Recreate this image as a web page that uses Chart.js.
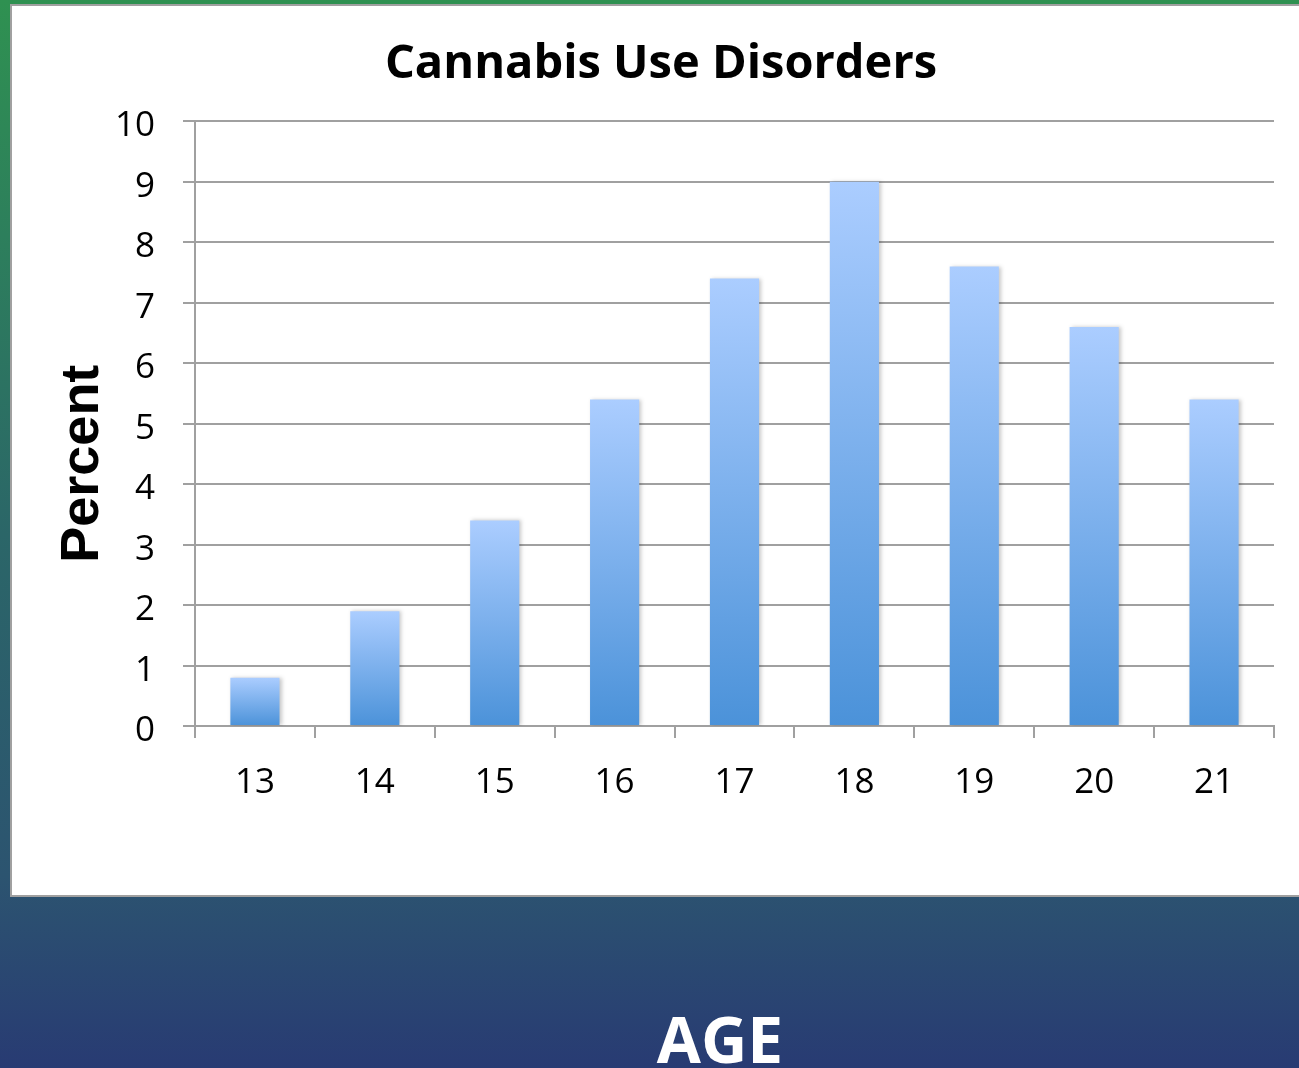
<!DOCTYPE html>
<html>
<head>
<meta charset="utf-8">
<script src="https://cdn.jsdelivr.net/npm/chart.js@4/dist/chart.umd.min.js"></script>
<style>
  html, body { margin: 0; padding: 0; }
  body {
    width: 1299px; height: 1068px; overflow: hidden; position: relative;
    background: linear-gradient(to bottom, #2f9151 0%, #2d7f5c 22%, #2b6668 50%, #2c5470 82%, #283b73 100%);
  }
  #panel {
    position: absolute; left: 10px; top: 4px; width: 1300px; height: 889px;
    background: #fff; border: 2px solid #a0a0a0; border-right: none; box-sizing: content-box;
  }
  #chart { position: absolute; left: 0; top: 0; }
  #xname {
    position: absolute; left: 0; width: 1440px; top: 999px; text-align: center;
    font: bold 64px "Open Sans", sans-serif; color: #fff; line-height: 80px;
  }
</style>
</head>
<body>
<div id="panel"><canvas id="chart" width="1289" height="889"></canvas></div>
<div id="xname">AGE</div>
<script>
// Share of each age group with a cannabis use disorder
const ages = ['13', '14', '15', '16', '17', '18', '19', '20', '21'];
const percents = [0.8, 1.9, 3.4, 5.4, 7.4, 9.0, 7.6, 6.6, 5.4];
const yTicks = [0, 1, 2, 3, 4, 5, 6, 7, 8, 9, 10];

const gridColor = '#a0a0a0';

// vertical gradient per bar, light at the top, deeper blue at the base
function barFill(ctx) {
  const chart = ctx.chart;
  const area = chart.chartArea;
  if (!area || ctx.type !== 'data') return '#7fb0ee';
  const y = chart.scales.y;
  const top = y.getPixelForValue(ctx.parsed.y);
  const base = y.getPixelForValue(0);
  if (!isFinite(top) || top === base) return '#7fb0ee';
  const g = chart.ctx.createLinearGradient(0, top, 0, base);
  g.addColorStop(0, '#abcdff');
  g.addColorStop(1, '#4b92d9');
  return g;
}

// soft drop shadow behind the bars
const barShadow = {
  id: 'barShadow',
  beforeDatasetsDraw(chart) {
    const c = chart.ctx;
    c.save();
    c.shadowColor = 'rgba(0,0,0,0.22)';
    c.shadowBlur = 4;
    c.shadowOffsetX = 2;
    c.shadowOffsetY = 0;
  },
  afterDatasetsDraw(chart) { chart.ctx.restore(); }
};

// rotated y-axis name
const yName = {
  id: 'yName',
  afterDraw(chart) {
    const c = chart.ctx;
    const area = chart.chartArea;
    c.save();
    c.translate(71, (area.top + area.bottom) / 2 + 40);
    c.rotate(-Math.PI / 2);
    c.textAlign = 'center';
    c.textBaseline = 'middle';
    c.fillStyle = '#000';
    c.font = 'bold 54px "Liberation Sans", Arial, sans-serif';
    c.fillText('Percent', 0, 0);
    c.restore();
  }
};

new Chart(document.getElementById('chart'), {
  type: 'bar',
  data: {
    labels: ages,
    datasets: [{
      data: percents,
      backgroundColor: barFill,
      borderWidth: 0,
      categoryPercentage: 1,
      barPercentage: 0.41
    }]
  },
  options: {
    responsive: false,
    animation: false,
    devicePixelRatio: 1,
    layout: { padding: { left: 36, right: 27, top: 0, bottom: 0 } },
    plugins: {
      legend: { display: false },
      tooltip: { enabled: false },
      title: {
        display: true,
        text: 'Cannabis Use Disorders',
        color: '#000',
        font: { family: '"Open Sans", sans-serif', size: 47, weight: 'bold', lineHeight: 1.2 },
        padding: { top: 30, bottom: 29 }
      }
    },
    scales: {
      x: {
        grid: {
          offset: true,
          drawOnChartArea: false,
          drawTicks: true,
          tickLength: 12,
          color: gridColor,
          lineWidth: 2
        },
        border: { display: true, color: gridColor, width: 2 },
        ticks: {
          color: '#000',
          padding: 24,
          font: { family: '"Open Sans", sans-serif', size: 35 }
        },
        afterFit(scale) { scale.height = 169; }
      },
      y: {
        min: 0,
        max: 10,
        afterBuildTicks(scale) { scale.ticks = yTicks.map(v => ({ value: v })); },
        grid: {
          drawTicks: true,
          tickLength: 12,
          color: gridColor,
          lineWidth: 2
        },
        border: { display: true, color: gridColor, width: 2 },
        ticks: {
          color: '#000',
          padding: 28,
          labelOffset: 5,
          font: { family: '"Open Sans", sans-serif', size: 35 }
        },
        afterFit(scale) { scale.width = 147; }
      }
    }
  },
  plugins: [barShadow, yName]
});
</script>
</body>
</html>
